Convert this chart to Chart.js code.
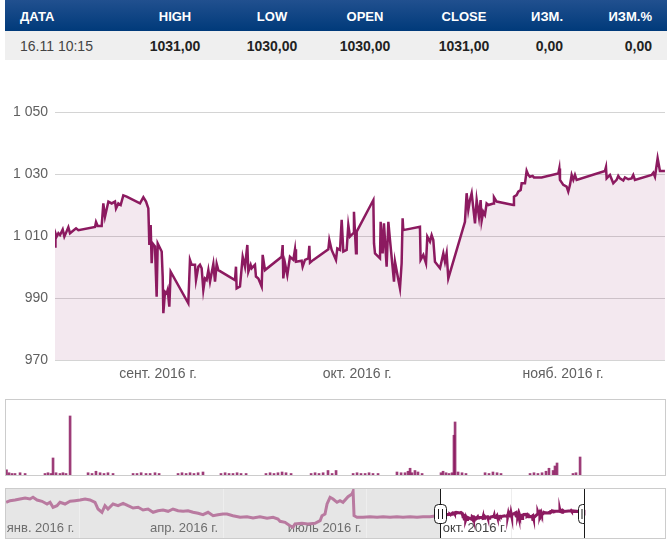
<!DOCTYPE html>
<html>
<head>
<meta charset="utf-8">
<script src="https://cdn.jsdelivr.net/npm/chart.js@4.4.0/dist/chart.umd.min.js"></script>
<style>
  body { margin: 0; width: 670px; height: 544px; overflow: hidden; background: #fff; position: relative;
         font-family: "Liberation Sans", Arial, sans-serif; }
  #head { position: absolute; left: 5px; top: 0; width: 662px; height: 31px;
          background: linear-gradient(#21508f, #003a7a); }
  #row { position: absolute; left: 5px; top: 31px; width: 662px; height: 29px; background: #efefef; }
  .cell { position: absolute; top: 0; width: 120px; white-space: nowrap; }
  #head .cell { color: #fff; font-weight: bold; font-size: 13px; line-height: 33px; }
  #row .cell { color: #222; font-weight: bold; font-size: 14px; line-height: 30px; }
  #row .cell.plain { font-weight: normal; color: #444; }
  #mainChart { position: absolute; left: 0; top: 62px; }
  .box { position: absolute; left: 5px; width: 659px; border: 1px solid #ccc; }
  .box canvas { display: block; }
  #volBox { top: 399px; height: 75px; }
  #navBox { top: 488px; height: 49px; }
</style>
</head>
<body>
<div id="head"></div>
<div id="row"></div>
<canvas id="mainChart" width="670" height="328"></canvas>
<div class="box" id="volBox"><canvas id="volChart" width="659" height="75"></canvas></div>
<div class="box" id="navBox"><canvas id="navChart" width="659" height="49"></canvas></div>

<script>
// quote table
const headerLabels = ["ДАТА", "HIGH", "LOW", "OPEN", "CLOSE", "ИЗМ.", "ИЗМ.%"];
const lastQuote = ["16.11 10:15", "1031,00", "1030,00", "1030,00", "1031,00", "0,00", "0,00"];

// x values are days counted from 1 Sep 2016
const monthTicks = [0, 30, 61];
const monthLabels = ["сент. 2016 г.", "окт. 2016 г.", "нояб. 2016 г."];
const priceTicks = [970, 990, 1010, 1030, 1050];

const priceDays = [
  -15.52, -15.45, -15.27, -15.01, -14.76, -14.36, -14.11, -13.51, -13.26, -12.35,
  -12.0, -9.49, -9.34, -9.09, -8.49, -8.24, -7.99, -7.48, -6.98, -6.48,
  -6.33, -5.98, -5.63, -5.23, -4.72, -2.72, -2.21, -1.81, -1.46, -1.31,
  -1.11, -0.96, -0.81, -0.46, -0.21, -0.05, 0.55, 0.70, 0.80, 1.05,
  1.30, 1.45, 1.70, 1.90, 4.56, 4.81, 5.07, 5.57, 5.72, 6.07,
  6.32, 6.57, 6.82, 7.07, 7.32, 7.58, 7.83, 8.33, 8.58, 8.83,
  9.08, 11.59, 11.74, 11.84, 12.34, 12.75, 13.10, 13.45, 13.60, 13.95,
  14.10, 14.60, 14.75, 15.11, 15.61, 15.76, 16.11, 18.62, 18.77, 18.87,
  19.12, 19.47, 19.87, 20.38, 20.63, 20.78, 21.63, 21.78, 22.13, 22.64,
  22.79, 22.89, 23.39, 25.65, 25.80, 26.15, 26.80, 27.00, 27.41, 27.66,
  27.91, 28.41, 28.66, 28.91, 29.41, 29.51, 29.82, 29.92, 32.43, 32.53,
  32.68, 33.43, 33.53, 33.83, 34.03, 34.43, 34.69, 34.94, 35.54, 35.69,
  36.44, 36.69, 36.84, 36.94, 39.45, 39.55, 39.96, 40.36, 40.56, 40.96,
  41.21, 41.46, 41.71, 42.47, 42.97, 43.22, 43.47, 43.72, 46.23, 46.48,
  46.73, 46.98, 47.24, 47.74, 47.99, 48.34, 48.59, 48.74, 48.99, 49.24,
  49.49, 49.75, 50.50, 50.60, 51.00, 53.51, 53.61, 54.01, 54.26, 54.62,
  54.77, 55.27, 55.52, 55.77, 56.02, 56.42, 56.62, 57.78, 60.29, 60.44,
  60.54, 61.04, 61.54, 61.79, 62.05, 62.30, 62.55, 62.80, 63.05, 67.32,
  67.47, 67.57, 68.07, 68.57, 69.07, 69.32, 69.57, 70.08, 70.33, 70.83,
  71.33, 71.58, 71.83, 74.34, 74.60, 74.85, 75.25, 75.60, 76.35
];
const priceValues = [
  1006.6, 1010.9, 1009.8, 1010.9, 1010.3, 1012.1, 1009.8, 1012.8, 1010.9, 1012.5,
  1011.9, 1012.9, 1014.5, 1013.2, 1013.2, 1020.5, 1016.2, 1021.1, 1020.5, 1021.1,
  1018.9, 1020.5, 1020.0, 1023.1, 1022.7, 1020.5, 1022.5, 1021.1, 1018.9, 1007.1,
  1013.5, 1001.2, 1007.6, 1006.6, 990.4, 1007.6, 1005.0, 996.9, 985.1, 992.0,
  991.5, 992.6, 987.2, 998.5, 988.3, 1002.3, 1000.7, 1000.7, 995.8, 1000.1,
  1000.7, 999.6, 992.6, 996.3, 995.8, 999.0, 995.3, 1001.0, 995.3, 1001.0,
  999.0, 995.8, 1000.1, 993.1, 993.7, 1003.3, 1000.1, 1007.1, 998.5, 1000.7,
  999.6, 1000.7, 996.9, 996.3, 993.7, 1003.9, 999.0, 1003.3, 1007.1, 996.3,
  1001.2, 997.4, 1003.3, 1002.3, 1005.7, 1001.7, 1002.0, 1000.1, 1002.3, 1002.8,
  1006.8, 1001.4, 1002.3, 1005.7, 1008.7, 1005.5, 1002.3, 1006.0, 1005.5, 1015.2,
  1005.0, 1005.5, 1013.5, 1009.8, 1010.9, 1017.8, 1004.4, 1011.4, 1021.6, 1007.6,
  1004.4, 1002.8, 1014.6, 1004.4, 1014.1, 1000.1, 1014.6, 1008.7, 995.3, 1001.7,
  993.1, 1001.2, 1015.7, 1011.9, 1013.0, 1002.3, 1003.9, 1001.2, 1009.8, 1008.2,
  1010.3, 1008.7, 1001.7, 999.6, 1004.4, 1001.7, 1004.4, 996.3, 1014.6, 1023.8,
  1018.4, 1021.6, 1023.8, 1014.1, 1021.6, 1016.2, 1021.6, 1014.9, 1017.8, 1016.8,
  1020.5, 1020.0, 1020.5, 1022.5, 1021.1, 1020.0, 1022.7, 1023.2, 1024.3, 1024.8,
  1027.0, 1027.0, 1031.0, 1029.7, 1029.1, 1029.4, 1028.9, 1028.9, 1030.2, 1031.8,
  1028.1, 1026.5, 1025.9, 1024.3, 1026.5, 1029.7, 1028.1, 1029.7, 1028.1, 1031.0,
  1032.2, 1028.6, 1029.7, 1027.0, 1028.1, 1029.4, 1028.6, 1027.9, 1028.9, 1028.3,
  1028.6, 1029.7, 1028.1, 1029.7, 1030.4, 1029.1, 1035.1, 1031.0, 1031.0
];

// navigator: whole year, earlier history + the zoomed range above
const navTicks = [-244, -153, -62, 30];
const navLabels = ["янв. 2016 г.", "апр. 2016 г.", "июль 2016 г.", "окт. 2016 г."];
const navDays = [
  -290.4, -287.9, -284.8, -281.6, -278.4, -275.3, -273.4, -270.8, -267.7, -264.5,
  -262.6, -260.7, -258.2, -256.3, -253.1, -249.9, -246.8, -243.6, -240.4, -237.3,
  -234.1, -232.2, -229.7, -227.8, -225.9, -222.7, -219.5, -216.3, -213.2, -210.0,
  -206.8, -203.7, -200.5, -197.3, -194.2, -191.0, -187.8, -184.7, -181.5, -178.3,
  -175.2, -172.0, -168.8, -165.7, -162.5, -159.3, -156.2, -153.0, -150.5, -146.7,
  -142.2, -137.8, -134.0, -129.6, -125.1, -121.3, -118.2, -116.9, -113.7, -110.6,
  -108.7, -107.4, -103.0, -99.2, -94.7, -91.5, -90.3, -88.4, -87.1, -85.2,
  -83.3, -80.8, -78.9, -77.0, -73.8, -71.3, -70.6, -70.0, -68.1, -64.3,
  -59.9, -55.4, -51.6, -47.2, -42.8, -39.0, -34.5, -30.1, -26.3, -21.9, -17.4
];
const navValues = [
  1073.5, 1081.5, 1085, 1090, 1095, 1090, 1098.5, 1085, 1078.5, 1065,
  1073.5, 1048.5, 1056.5, 1073.5, 1065, 1078.5, 1081.5, 1085, 1090, 1085,
  1073.5, 1040, 1023.5, 1056.5, 1040, 1065, 1056.5, 1068.5, 1056.5, 1045,
  1048.5, 1035, 1040, 1023.5, 1031.5, 1035, 1028.5, 1040, 1031.5, 1028.5,
  1031.5, 1023.5, 1018.5, 1011.5, 1023.5, 1006.5, 1011.5, 1015, 1015, 1006.5,
  998.5, 1001.5, 995, 1001.5, 993.5, 998.5, 990, 978.5, 973.5, 956.5,
  948.5, 965, 968.5, 965, 968.5, 981.5, 1006.5, 1015, 1065, 1098.5,
  1090, 1073.5, 1081.5, 1073.5, 1101.5, 1115, 1128.5, 1006.5, 998.5, 998.5,
  1001.5, 998.5, 1001.5, 998.5, 1001.5, 998.5, 1001.5, 998.5, 1001.5, 1001.5, 1006.5
];

// volume
const volDays = [
  -290.2, -288.6, -286.7, -284.8, -281.6, -278.4,
  -265.8, -263.9, -262.0, -260.7, -258.8, -256.3, -254.4, -252.5, -249.9,
  -238.5, -236.0, -233.5, -230.9, -228.4, -225.9, -222.7,
  -210.0, -207.5, -204.9, -201.8, -199.2, -196.1, -193.5,
  -181.5, -179.0, -176.4, -173.9, -171.4, -168.8, -165.7,
  -154.3, -151.7, -149.2, -146.7, -144.1, -141.6, -138.4,
  -125.8, -123.2, -120.7, -118.2, -115.6, -113.1, -109.9,
  -97.2, -94.7, -92.2, -89.6, -86.5, -83.9, -81.4,
  -70.6, -68.1, -65.6, -63.0, -60.5, -58.0, -54.8,
  -42.8, -40.2, -37.7, -35.8, -34.5, -33.3, -31.4, -29.5, -26.9,
  -14.9, -13.6, -11.7, -9.8, -7.9, -6.7, -6.0, -4.1, -1.6, 0.9,
  13.0, 15.5, 18.0, 20.6, 23.1,
  41.5, 44.0, 46.5, 49.1, 51.6, 53.5, 56.1, 57.3, 58.6,
  68.7, 70.6, 73.2
];
const volValues = [
  7, 3, 2, 2, 3, 2,
  2, 3, 2, 22.7, 3, 2, 3, 2, 78.7,
  3, 2, 5, 3, 2, 3, 2,
  2, 2, 3, 2, 2, 3, 2,
  2, 3, 2, 3, 2, 3, 4,
  2, 3, 2, 2, 3, 2, 2,
  2, 3, 2, 3, 4, 3, 2,
  2, 3, 2, 3, 6, 2, 6,
  2, 3, 2, 2, 3, 2, 2,
  4, 3, 3, 5, 9, 3, 6, 4, 2,
  3, 5, 3, 2, 3, 53, 70.7, 4, 3, 2,
  3, 2, 4, 3, 2,
  2, 3, 2, 3, 5, 9, 6, 12, 16,
  2, 3, 24
];

const FONT = "'Liberation Sans', Arial, sans-serif";
const LINE = "#8c1a60";
const LINE_DIM = "#b97aa0";
const selStart = -15.52, selEnd = 76.36;   // zoomed range
const navMin = -290.5, navMax = 127;

Chart.defaults.font.family = FONT;

// table
const colAnchor = [20, 175, 272, 365, 464, 563, 652];
const colAlign = ["left", "center", "center", "center", "center", "right", "right"];
function fillRow(el, texts) {
  texts.forEach((t, i) => {
    const c = document.createElement("div");
    c.className = "cell";
    c.textContent = t;
    c.style.textAlign = colAlign[i];
    const a = colAnchor[i] - 5;
    c.style.left = (colAlign[i] === "left" ? a : colAlign[i] === "center" ? a - 60 : a - 120) + "px";
    el.appendChild(c);
  });
}
fillRow(document.getElementById("head"), headerLabels);
fillRow(document.getElementById("row"), lastQuote);
document.querySelector("#row .cell").classList.add("plain");

const fmtPrice = v => v >= 1000 ? Math.floor(v / 1000) + " " + String(v % 1000).padStart(3, "0") : String(v);

// main price chart
new Chart(document.getElementById("mainChart"), {
  type: "line",
  data: {
    datasets: [{
      data: priceDays.map((d, i) => ({ x: d, y: priceValues[i] })),
      borderColor: LINE,
      borderWidth: 2.5,
      backgroundColor: "rgba(140,26,96,0.1)",
      fill: "start",
      pointRadius: 0,
      tension: 0
    }]
  },
  options: {
    responsive: false,
    animation: false,
    events: [],
    layout: { padding: { top: 50, right: 5, left: 0, bottom: 0 } },
    plugins: { legend: { display: false }, tooltip: { enabled: false } },
    scales: {
      x: {
        type: "linear",
        min: selStart,
        max: selEnd,
        grid: { display: false, drawTicks: false },
        border: { display: false },
        afterBuildTicks: s => { s.ticks = monthTicks.map(v => ({ value: v })); },
        afterFit: s => { s.height = 30; },
        ticks: {
          color: "#606060",
          font: { size: 14 },
          padding: 6,
          maxRotation: 0,
          autoSkip: false,
          callback: (v, i) => monthLabels[i]
        }
      },
      y: {
        min: 970,
        max: 1050,
        afterBuildTicks: s => { s.ticks = priceTicks.map(v => ({ value: v })); },
        afterFit: s => { s.width = 55; },
        grid: { color: "#d4d4d4", drawTicks: false },
        border: { display: false },
        ticks: { color: "#606060", font: { size: 14 }, padding: 7, callback: v => fmtPrice(v) }
      }
    }
  }
});

// volume bars
new Chart(document.getElementById("volChart"), {
  type: "bar",
  data: {
    datasets: [{
      data: volDays.map((d, i) => ({ x: d, y: volValues[i] })),
      backgroundColor: "rgba(140,26,96,0.85)",
      barThickness: 2,
      borderWidth: 0
    }]
  },
  options: {
    responsive: false,
    animation: false,
    events: [],
    layout: { padding: 0 },
    plugins: { legend: { display: false }, tooltip: { enabled: false } },
    scales: {
      x: { type: "linear", min: navMin, max: navMax, offset: false, display: false },
      y: { min: 0, max: 100, display: false }
    }
  }
});

// navigator: mask, labels and handles
const navPlugin = {
  id: "navDecor",
  beforeDraw(chart) {
    const { ctx, chartArea: a, scales: { x } } = chart;
    ctx.save();
    ctx.fillStyle = "#e6e6e6";
    ctx.fillRect(a.left, a.top, x.getPixelForValue(selStart) - a.left, a.bottom - a.top);
    ctx.restore();
  },
  beforeDatasetsDraw(chart) {
    const { ctx, scales: { x } } = chart;
    ctx.save();
    ctx.font = "13px " + FONT;
    ctx.textAlign = "right";
    ctx.textBaseline = "middle";
    navTicks.forEach((t, i) => {
      ctx.fillStyle = t < selStart ? "#6e6e6e" : "#444";
      ctx.fillText(navLabels[i], x.getPixelForValue(t) - 5, 39);
    });
    ctx.restore();
  },
  afterDraw(chart) {
    const { ctx, chartArea: a, scales: { x } } = chart;
    const h1 = Math.round(x.getPixelForValue(selStart)) + 0.5;
    const h2 = Math.round(x.getPixelForValue(selEnd)) - 0.5;
    ctx.save();
    ctx.strokeStyle = "#1a1a1a";
    ctx.lineWidth = 1;
    ctx.beginPath();
    ctx.moveTo(h1, a.top); ctx.lineTo(h1, a.bottom);
    ctx.moveTo(h2, a.top); ctx.lineTo(h2, a.bottom);
    ctx.stroke();
    ctx.fillStyle = "#fff";
    ctx.beginPath();
    ctx.roundRect(h1 - 6, 15.5, 12, 19, 4);
    ctx.fill(); ctx.stroke();
    ctx.beginPath();
    ctx.moveTo(h1 - 2, 20); ctx.lineTo(h1 - 2, 30);
    ctx.moveTo(h1 + 2, 20); ctx.lineTo(h1 + 2, 30);
    ctx.stroke();
    ctx.beginPath();
    ctx.roundRect(h2 - 6, 15.5, 6, 19, [4, 0, 0, 4]);
    ctx.fill(); ctx.stroke();
    ctx.beginPath();
    ctx.moveTo(h2 - 2.5, 20); ctx.lineTo(h2 - 2.5, 30);
    ctx.stroke();
    ctx.restore();
  }
};

new Chart(document.getElementById("navChart"), {
  type: "line",
  data: {
    datasets: [{
      data: navDays.concat(priceDays).map((d, i) => ({ x: d, y: navValues.concat(priceValues)[i] })),
      borderColor: LINE,
      borderWidth: 3,
      pointRadius: 0,
      fill: false,
      tension: 0,
      segment: { borderColor: c => c.p1.parsed.x <= selStart ? LINE_DIM : LINE }
    }]
  },
  options: {
    responsive: false,
    animation: false,
    events: [],
    layout: { padding: 0 },
    plugins: { legend: { display: false }, tooltip: { enabled: false } },
    scales: {
      x: {
        type: "linear",
        min: navMin,
        max: navMax,
        offset: false,
        grid: { color: "#eeeeee", drawTicks: false },
        border: { display: false },
        ticks: { display: false },
        afterBuildTicks: s => { s.ticks = navTicks.map(v => ({ value: v })); }
      },
      y: { min: 895, max: 1140, display: false }
    }
  },
  plugins: [navPlugin]
});
</script>
</body>
</html>
